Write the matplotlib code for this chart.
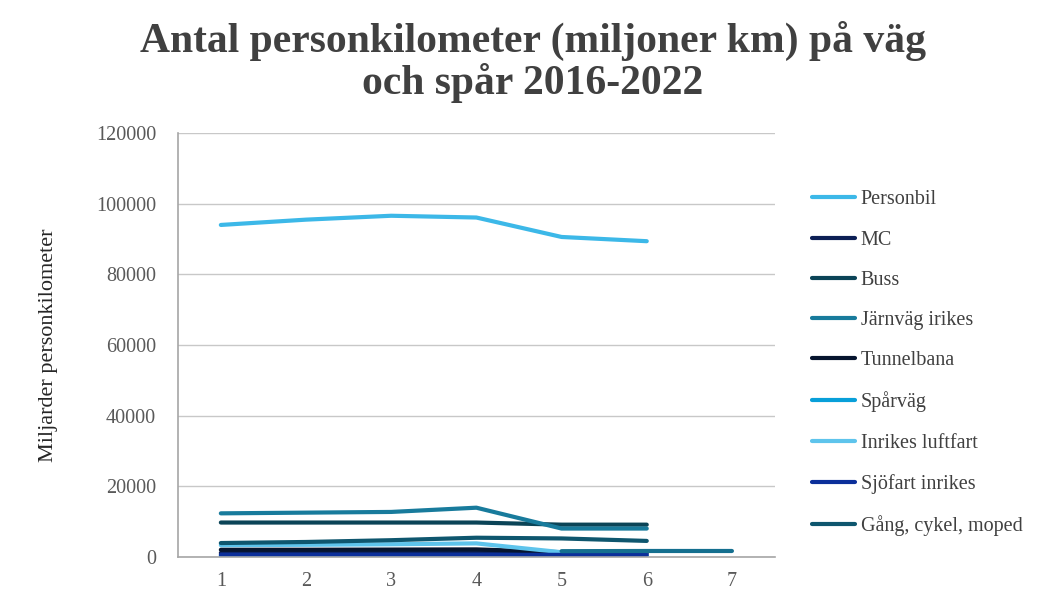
import numpy as np
import matplotlib
matplotlib.use('Agg')
import matplotlib.pyplot as plt

plt.rcParams['font.family'] = ['Liberation Serif', 'DejaVu Serif']

# x categories (years shown as 1..7 in the original)
categories = [1, 2, 3, 4, 5, 6, 7]

personbil = [94000, 95500, 96600, 96100, 90600, 89400, np.nan]
mc = [1200, 1250, 1300, 1300, 1100, 1150, np.nan]
buss = [9800, 9800, 9800, 9800, 9200, 9200, np.nan]
jarnvag = [12400, 12600, 12800, 14000, 8100, 8100, np.nan]
tunnelbana = [2100, 2100, 2150, 2200, 1400, 1500, np.nan]
sparvag = [400, 400, 420, 430, 350, 380, np.nan]
luftfart = [3400, 3500, 3650, 3900, 1400, 1500, np.nan]
sjofart = [700, 700, 700, 700, 650, 650, np.nan]
gang = [4000, 4300, 4800, 5500, 5300, 4600, np.nan]
extra = [np.nan, np.nan, np.nan, np.nan, 1700, 1750, 1750]   # legend entry cut off in original

series_names = ['Personbil', 'MC', 'Buss', 'Järnväg irikes', 'Tunnelbana',
                'Spårväg', 'Inrikes luftfart', 'Sjöfart inrikes', 'Gång, cykel, moped']
series_values = [personbil, mc, buss, jarnvag, tunnelbana,
                 sparvag, luftfart, sjofart, gang]
series_colors = ['#3cb8e8', '#0c1f55', '#0b4457', '#187b9c', '#06142e',
                 '#089fd9', '#5ec4ec', '#0b2f9a', '#0e566e']

fig = plt.figure(figsize=(10.61, 5.94), dpi=100)
ax = fig.add_axes([0.168, 0.062, 0.562, 0.714])

for name, vals, col in zip(series_names, series_values, series_colors):
    ax.plot(categories, vals, color=col, lw=3, label=name, solid_capstyle='round')
ax.plot(categories, extra, color='#146f8f', lw=3, label='_nolegend_', solid_capstyle='round')

ax.set_xlim(0.5, 7.5)
ax.set_ylim(0, 120000)
ax.set_yticks(np.arange(0, 120001, 20000))
ax.set_xticks(categories)
ax.grid(axis='y', color='#c8c8c8', lw=1)
ax.set_axisbelow(True)
for s in ['top', 'right']:
    ax.spines[s].set_visible(False)
ax.spines['left'].set_color('#a6a6a6')
ax.spines['bottom'].set_color('#a6a6a6')
ax.spines['left'].set_linewidth(1.2)
ax.spines['bottom'].set_linewidth(1.2)
ax.tick_params(length=0, labelsize=14.5, labelcolor='#595959', pad=16)
ax.tick_params(axis='x', pad=11)

ax.set_ylabel('Miljarder personkilometer', fontsize=16, color='#262626', labelpad=27)

fig.text(0.502, 0.965, 'Antal personkilometer (miljoner km) på väg\noch spår 2016-2022',
         ha='center', va='top', fontsize=30, fontweight='bold', color='#404040',
         linespacing=1.08)

ax.legend(loc='upper left', bbox_to_anchor=(1.05, 0.884), frameon=False,
          fontsize=14.5, handlelength=2.1, handletextpad=0.3, labelspacing=1.05,
          labelcolor='#404040', borderaxespad=0)

fig.savefig('out.png', dpi=100)
